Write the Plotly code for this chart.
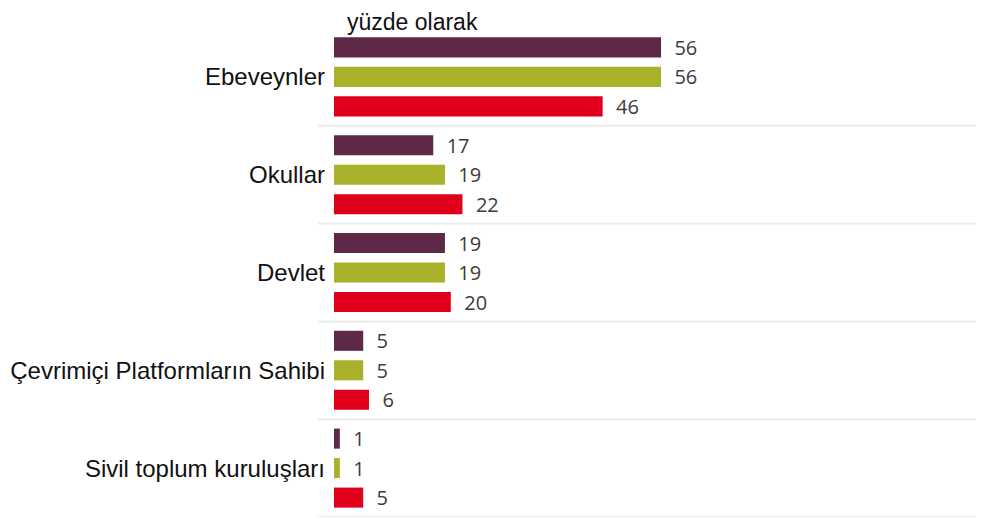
import plotly.graph_objects as go

# kategoriler ve seriler (yüzde olarak)
categories = ['Ebeveynler',
              'Okullar',
              'Devlet',
              'Çevrimiçi Platformların Sahibi',
              'Sivil toplum kuruluşları']
series_a = [56, 17, 19, 5, 1]
series_b = [56, 19, 19, 5, 1]
series_c = [46, 22, 20, 6, 5]

colors = ['#5e2849', '#a9b12b', '#e1001b']

# the page body adds an 8px margin, so the figure is laid out in page coords minus 8
PAGE_OFF = 8
W, H = 984 - PAGE_OFF, 519 - PAGE_OFF
plot_left = 334 - PAGE_OFF
plot_top = 28 - PAGE_OFF
plot_bottom = 2

fig = go.Figure()
for vals, col in zip([series_a, series_b, series_c], colors):
    fig.add_trace(go.Bar(y=categories,
                         x=vals,
                         orientation='h',
                         marker=dict(color=col, line=dict(width=0)),
                         texttemplate='\u00a0\u00a0%{x}',
                         textposition='outside',
                         constraintext='none',
                         cliponaxis=False,
                         textfont=dict(family='Open Sans', size=20, color='#3c3c3c'),
                         hoverinfo='skip'))

# separator lines between groups (and at the bottom)
for i in range(len(categories)):
    fig.add_shape(type='line',
                  xref='paper', yref='y',
                  x0=-16 / (W - plot_left), x1=1,
                  y0=i + 0.5, y1=i + 0.5,
                  line=dict(color='#ececec', width=2),
                  layer='below')

fig.update_layout(width=W,
                  height=H,
                  margin=dict(l=plot_left, r=0, t=plot_top, b=plot_bottom),
                  paper_bgcolor='white',
                  plot_bgcolor='white',
                  barmode='group',
                  bargap=0.095,
                  bargroupgap=0.32,
                  showlegend=False,
                  title=dict(text='yüzde olarak',
                             x=(347 - PAGE_OFF) / W, xanchor='left',
                             y=1 - 6 / H, yanchor='top',
                             pad=dict(t=0, b=0, l=0, r=0),
                             font=dict(family='Liberation Sans', size=23, color='#111111')))

fig.update_xaxes(range=[0, (W - plot_left) / 5.84],
                 visible=False,
                 showgrid=False,
                 zeroline=False)
fig.update_yaxes(range=[len(categories) - 0.5, -0.5],
                 showgrid=False,
                 zeroline=False,
                 showline=False,
                 ticks='',
                 ticklabelstandoff=8,
                 tickfont=dict(family='Liberation Sans', size=24, color='#111111'))

fig.write_html('out.html')
